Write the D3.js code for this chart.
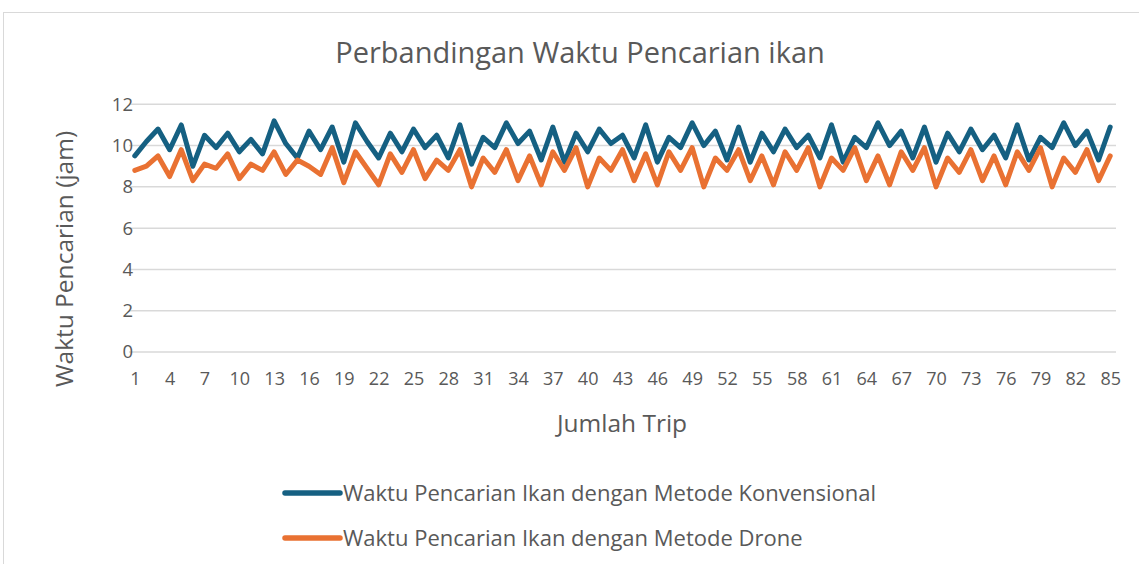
<!DOCTYPE html>
<html><head><meta charset="utf-8">
<script src="https://cdn.jsdelivr.net/npm/d3@7"></script>
<style>body{margin:0;background:#fff;} svg{display:block;font-family:"Open Sans",sans-serif;}</style>
</head><body>
<svg id="c" width="1139" height="564"></svg>
<script>
const trips = d3.range(1, 86);
const konvensional = [9.5,10.2,10.8,9.8,11.0,9.0,10.5,9.9,10.6,9.7,10.3,9.6,11.2,10.1,9.4,10.7,9.8,10.9,9.2,11.1,10.2,9.4,10.6,9.7,10.8,9.9,10.5,9.4,11.0,9.1,10.4,9.9,11.1,10.1,10.7,9.3,10.9,9.2,10.6,9.7,10.8,10.1,10.5,9.4,11.0,9.2,10.4,9.9,11.1,10.0,10.7,9.3,10.9,9.2,10.6,9.7,10.8,9.9,10.5,9.4,11.0,9.2,10.4,9.9,11.1,10.0,10.7,9.4,10.9,9.2,10.6,9.7,10.8,9.8,10.5,9.4,11.0,9.3,10.4,9.9,11.1,10.0,10.7,9.3,10.9];
const drone = [8.8,9.0,9.5,8.5,9.8,8.3,9.1,8.9,9.6,8.4,9.1,8.8,9.7,8.6,9.3,9.0,8.6,9.9,8.2,9.7,8.9,8.1,9.6,8.7,9.8,8.4,9.3,8.8,9.8,8.0,9.4,8.7,9.8,8.3,9.5,8.1,9.7,8.8,9.9,8.0,9.4,8.8,9.8,8.3,9.6,8.1,9.7,8.8,9.9,8.0,9.4,8.8,9.8,8.3,9.5,8.1,9.7,8.8,9.9,8.0,9.4,8.8,9.9,8.3,9.5,8.1,9.7,8.8,9.9,8.0,9.4,8.7,9.8,8.3,9.5,8.1,9.7,8.8,9.9,8.0,9.4,8.7,9.8,8.3,9.5];
const yTicks = [0,2,4,6,8,10,12];
const xTickLabels = trips.filter(d => (d - 1) % 3 === 0);
const seriesNames = ["Waktu Pencarian Ikan dengan Metode Konvensional","Waktu Pencarian Ikan dengan Metode Drone"];
const colors = ["#156082","#E97132"];
const title = "Perbandingan Waktu Pencarian ikan";

const svg = d3.select("#c");
const txt = "#595959";
svg.append("rect").attr("x",3.5).attr("y",12.5).attr("width",1150).attr("height",560)
  .attr("fill","#fff").attr("stroke","#d9d9d9").attr("stroke-width",1);

const x = d3.scalePoint().domain(trips).range([129,1116]).padding(0.5);
const y = d3.scaleLinear().domain([0,12]).range([352,104.3]);

svg.append("g").selectAll("line").data(yTicks).join("line")
  .attr("x1",129).attr("x2",1116).attr("y1",d=>y(d)).attr("y2",d=>y(d))
  .attr("stroke","#d9d9d9").attr("stroke-width",1.5);

const yAxis = d3.axisLeft(y).tickValues(yTicks).tickSize(0).tickPadding(0);
const ga = svg.append("g").attr("transform","translate(133,0)").call(yAxis);
ga.select(".domain").remove();
ga.selectAll("text").attr("font-size",18.5).attr("fill",txt).attr("font-family","'Open Sans',sans-serif");

const xAxis = d3.axisBottom(x).tickValues(xTickLabels).tickSize(0).tickPadding(0);
const gx = svg.append("g").attr("transform","translate(0,372)").call(xAxis);
gx.select(".domain").remove();
gx.selectAll("text").attr("font-size",18).attr("fill",txt).attr("font-family","'Open Sans',sans-serif");

const line = d3.line().x((d,i)=>x(trips[i])).y(d=>y(d)).curve(d3.curveLinear);
[konvensional, drone].forEach((s,k)=>{
  svg.append("path").datum(s).attr("d",line).attr("fill","none")
    .attr("stroke",colors[k]).attr("stroke-width",5).attr("stroke-linejoin","round").attr("stroke-linecap","round");
});

svg.append("text").attr("x",580).attr("y",63).attr("text-anchor","middle")
  .attr("font-size",29).attr("fill",txt).text(title);
svg.append("text").attr("transform","translate(73,259) rotate(-90)").attr("text-anchor","middle")
  .attr("font-size",24.5).attr("fill",txt).text("Waktu Pencarian (jam)");
svg.append("text").attr("x",622).attr("y",432).attr("text-anchor","middle")
  .attr("font-size",24.5).attr("fill",txt).text("Jumlah Trip");

const lg = svg.append("g");
seriesNames.forEach((n,k)=>{
  const yy = 493 + k*45;
  lg.append("line").attr("x1",285).attr("x2",340).attr("y1",yy).attr("y2",yy)
    .attr("stroke",colors[k]).attr("stroke-width",5.5).attr("stroke-linecap","round");
  lg.append("text").attr("x",343).attr("y",yy+8).attr("font-size",22).attr("fill",txt).text(n);
});
</script>
</body></html>
